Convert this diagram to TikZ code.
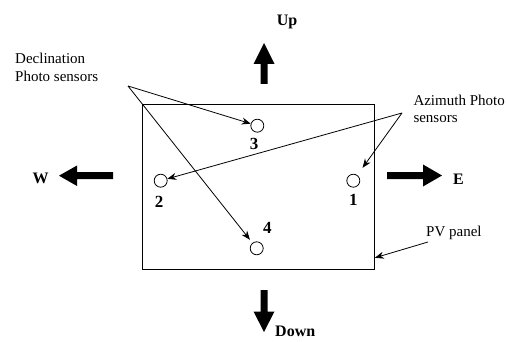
\documentclass[tikz,border=0pt]{standalone}
\usepackage{fontspec}
\setmainfont{Liberation Serif}
\usetikzlibrary{arrows.meta,calc}
\begin{document}
\begin{tikzpicture}[x=1pt,y=-1pt,
  lbl/.style={inner sep=0pt, font=\fontsize{15}{18}\selectfont, anchor=north west, align=left},
  dirlbl/.style={inner sep=0pt, font=\fontsize{16}{18}\selectfont\bfseries, anchor=base west},
  num/.style={inner sep=0pt, font=\fontsize{17}{18}\selectfont\bfseries},
  sensor/.style={circle, draw, line width=0.8pt, minimum size=13pt, inner sep=0pt},
  conn/.style={line width=0.8pt, -{Stealth[length=9pt,width=7pt]}},
  bigarrow/.style={fill=black}]
\useasboundingbox (0,0) rectangle (506,342);

% PV panel
\node[draw, line width=0.8pt, minimum width=232pt, minimum height=165pt, inner sep=0pt, anchor=north west] (panel) at (142,104) {};

% sensors
\node[sensor] (c3) at (257.3,125.7) {};
\node[sensor] (c2) at (160.7,180.7) {};
\node[sensor] (c1) at (353.3,180.7) {};
\node[sensor] (c4) at (256.7,248.3) {};

\node[num] (n3) at (254,144.3) {3};
\node[num] (n2) at (159,201.7) {2};
\node[num] (n1) at (353.3,200) {1};
\node[num] (n4) at (267.3,228.3) {4};

% labels
\node[lbl] (declab) at (15,53.2) {Declination\\Photo sensors};
\node[lbl, font=\fontsize{15}{17}\selectfont] (azlab) at (413.3,94.7) {Azimuth Photo\\sensors};
\node[inner sep=0pt, font=\fontsize{15}{18}\selectfont, anchor=base west] (pvlab) at (426,236.7) {PV panel};

\node[dirlbl] (up) at (276.7,26) {Up};
\node[dirlbl] (down) at (275,336.7) {Down};
\node[dirlbl] (west) at (32.5,183) {W};
\node[dirlbl] (east) at (453,184.5) {E};

% direction arrows
\fill[bigarrow] (260.5,84) -- (260.5,64) -- (253.5,64) -- (264,43) -- (274.5,64) -- (267.5,64) -- (267.5,84) -- cycle;
\fill[bigarrow] (260.5,290) -- (260.5,311.5) -- (253.5,311.5) -- (264,332) -- (274.5,311.5) -- (267.5,311.5) -- (267.5,290) -- cycle;
\fill[bigarrow] (113,172.2) -- (77,172.2) -- (77,165.5) -- (59,175.7) -- (77,186) -- (77,179.2) -- (113,179.2) -- cycle;
\fill[bigarrow] (387,172) -- (423,172) -- (423,164.5) -- (442,175.5) -- (423,186.5) -- (423,179) -- (387,179) -- cycle;

% connectors
\coordinate (D0) at (128,86);
\coordinate (A0) at (402,113);
\coordinate (pvfrom) at (428,242);
\draw[conn] (D0) -- (c3);
\draw[conn, shorten >=4pt] (D0) -- (c4);
\draw[conn] (A0) -- (c2);
\draw[conn, shorten >=9pt] (A0) -- (c1);
\draw[conn] (pvfrom) -- ($(panel.south east)+(0,-12)$);
\end{tikzpicture}
\end{document}
